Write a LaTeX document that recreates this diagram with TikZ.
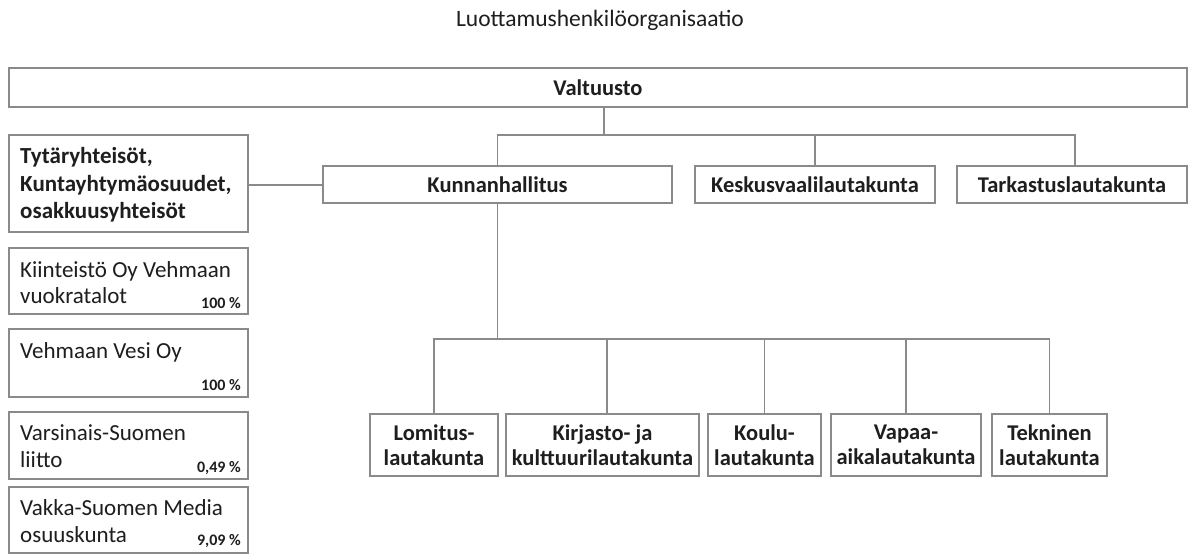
\documentclass[tikz,border=0pt]{standalone}
\usepackage{fontspec}
\setmainfont{Carlito}
\definecolor{linegray}{HTML}{8A8A8A}
\definecolor{txt}{HTML}{1E1E1E}
\begin{document}
\begin{tikzpicture}[x=1pt,y=-1pt,
  box/.style={draw=linegray,line width=1.4pt,fill=white,inner sep=0pt,text=txt},
  lbl/.style={box,font=\fontsize{22.5}{25}\selectfont\bfseries,align=center},
  conn/.style={draw=linegray,line width=1.4pt},
  ltxt/.style={font=\fontsize{23}{26}\selectfont,text=txt,inner sep=0pt,anchor=base west},
  btxt/.style={font=\fontsize{23}{26}\selectfont\bfseries,text=txt,inner sep=0pt,anchor=base west},
  pct/.style={font=\fontsize{16}{18}\selectfont\bfseries,text=txt,inner sep=0pt,anchor=base east}]
\useasboundingbox[fill=white] (0,0) rectangle (1195,554);
\node[font=\fontsize{23.5}{26}\selectfont,text=txt] (title) at (600,20) {Luottamushenkilöorganisaatio};
% top
\node[lbl,minimum width=1178pt,minimum height=39pt] (val) at (598,87.5) {Valtuusto};
\node[lbl,minimum width=349pt,minimum height=37pt] (kh) at (497.5,184.5) {Kunnanhallitus};
\node[lbl,minimum width=240pt,minimum height=37pt] (kv) at (815,184.5) {Keskusvaalilautakunta};
\node[lbl,minimum width=230pt,minimum height=37pt] (tk) at (1072,184.5) {Tarkastuslautakunta};
\coordinate (j1) at (604,135);
\draw[conn] (val.south -| j1) -- (j1);
\draw[conn] (kh.north) |- (j1) -| (1075,166);
\draw[conn] (kv.north) -- (kv.north |- j1);
% left
\node[box,minimum width=239pt,minimum height=97pt] (tyt) at (128.5,183.5) {};
\node[btxt] (tyt1) at (20,163) {Tytäryhteisöt,};
\node[btxt] (tyt2) at (20,191) {Kuntayhtymäosuudet,};
\node[btxt] (tyt3) at (20,218) {osakkuusyhteisöt};
\draw[conn] (tyt.east |- 0,185) -- (kh.west |- 0,185);
\node[box,minimum width=239pt,minimum height=66pt] (kii) at (128.5,281) {};
\node[ltxt] (kii1) at (20,277) {Kiinteistö Oy Vehmaan};
\node[ltxt] (kii2) at (20,303) {vuokratalot};
\node[pct] (kiip) at (241,308) {100 \%};
\node[box,minimum width=239pt,minimum height=68pt] (ves) at (128.5,363) {};
\node[ltxt] (ves1) at (20,358) {Vehmaan Vesi Oy};
\node[pct] (vesp) at (241,390) {100 \%};
\node[box,minimum width=239pt,minimum height=67pt] (var) at (128.5,445.5) {};
\node[ltxt] (var1) at (20,440) {Varsinais-Suomen};
\node[ltxt] (var2) at (20,467) {liitto};
\node[pct] (varp) at (241,472) {0,49 \%};
\node[box,minimum width=239pt,minimum height=66pt] (vak) at (128.5,520) {};
\node[ltxt] (vak1) at (20,515) {Vakka-Suomen Media};
\node[ltxt] (vak2) at (20,542) {osuuskunta};
\node[pct] (vakp) at (241,545) {9,09 \%};
% bottom
\node[lbl,minimum width=128pt,minimum height=62pt] (lom) at (434,445) {Lomitus-\\lautakunta};
\node[lbl,minimum width=193pt,minimum height=62pt] (kir) at (602.5,445) {Kirjasto- ja\\kulttuurilautakunta};
\node[lbl,minimum width=113pt,minimum height=62pt] (kou) at (764.5,445) {Koulu-\\lautakunta};
\node[lbl,minimum width=150pt,minimum height=62pt] (vap) at (906,445) {Vapaa-\\aikalautakunta};
\node[lbl,minimum width=115pt,minimum height=62pt] (tek) at (1049.5,445) {Tekninen\\lautakunta};
\coordinate (j2) at (498,339);
\draw[conn] (kh.south) -- (kh.south |- j2);
\draw[conn] (lom.north) |- (j2) -| (tek.north);
\draw[conn] (kir.north -| 607,0) -- (607,339);
\draw[conn] (kou.north) -- (kou.north |- j2);
\draw[conn] (vap.north) -- (vap.north |- j2);
\end{tikzpicture}
\end{document}
